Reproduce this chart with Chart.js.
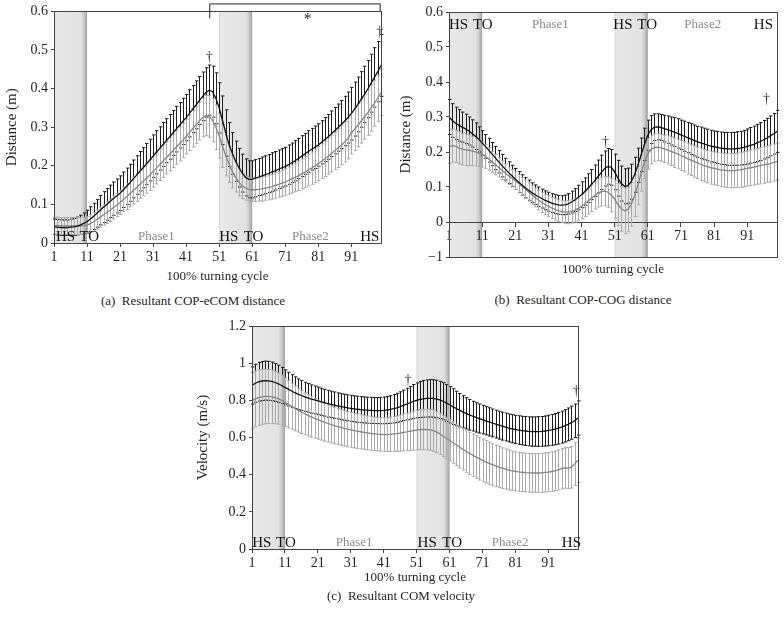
<!DOCTYPE html>
<html>
<head>
<meta charset="utf-8">
<script src="https://cdn.jsdelivr.net/npm/chart.js@4.4.1/dist/chart.umd.min.js"></script>
<style>
  body { margin: 0; background: #fff; }
  #wrap { position: relative; width: 784px; height: 625px; }
  canvas { position: absolute; }
  .cap { position: absolute; width: 320px; text-align: center; white-space: pre;
         font: 13px 'Liberation Serif', 'DejaVu Serif', serif; color: #231f20; line-height: 16px; }
</style>
</head>
<body>
<div id="wrap">
  <canvas id="chartA" width="392" height="290" style="left:0;top:0"></canvas>
  <canvas id="chartB" width="389" height="290" style="left:395px;top:0"></canvas>
  <canvas id="chartC" width="400" height="290" style="left:190px;top:310px"></canvas>
  <div class="cap" style="left:33px;top:293px">(a)  Resultant COP-eCOM distance</div>
  <div class="cap" style="left:423px;top:292px">(b)  Resultant COP-COG distance</div>
  <div class="cap" style="left:241px;top:588px">(c)  Resultant COM velocity</div>
</div>
<script>
// --- data (one value per 1% of the turning cycle, 1..100) ---
const cycleTicks = [1, 11, 21, 31, 41, 51, 61, 71, 81, 91];
const stanceBands = [[1, 11], [51, 61]];
const phaseText = ['HS', 'TO', 'Phase1', 'HS', 'TO', 'Phase2', 'HS'];

// (a) COP-eCOM distance
const meanBlackA = [
  0.042,0.041,0.040,0.040,0.040,0.041,0.042,0.044,0.047,0.051,
  0.055,0.062,0.069,0.077,0.085,0.093,0.100,0.108,0.115,0.122,
  0.129,0.138,0.147,0.156,0.166,0.176,0.186,0.195,0.205,0.215,
  0.225,0.235,0.245,0.255,0.265,0.275,0.285,0.295,0.305,0.315,
  0.325,0.336,0.347,0.358,0.369,0.380,0.390,0.396,0.392,0.375,
  0.350,0.318,0.285,0.255,0.232,0.212,0.195,0.181,0.170,0.165,
  0.165,0.168,0.171,0.174,0.177,0.180,0.184,0.187,0.191,0.195,
  0.198,0.203,0.208,0.213,0.219,0.225,0.231,0.237,0.243,0.248,
  0.254,0.261,0.268,0.275,0.283,0.291,0.299,0.307,0.316,0.325,
  0.335,0.347,0.359,0.372,0.385,0.399,0.414,0.429,0.444,0.460];
const sdBlackA = [
  0.020,0.020,0.020,0.020,0.020,0.021,0.022,0.023,0.025,0.027,
  0.030,0.032,0.034,0.036,0.038,0.040,0.041,0.042,0.043,0.044,
  0.045,0.046,0.047,0.048,0.049,0.050,0.051,0.052,0.053,0.054,
  0.055,0.056,0.056,0.057,0.057,0.058,0.058,0.059,0.059,0.060,
  0.060,0.061,0.061,0.062,0.062,0.063,0.064,0.065,0.066,0.066,
  0.065,0.063,0.060,0.057,0.054,0.052,0.050,0.049,0.048,0.048,
  0.048,0.048,0.048,0.049,0.049,0.049,0.050,0.050,0.050,0.050,
  0.050,0.051,0.051,0.052,0.052,0.053,0.053,0.054,0.054,0.055,
  0.055,0.056,0.057,0.058,0.059,0.060,0.061,0.062,0.064,0.066,
  0.068,0.070,0.071,0.072,0.073,0.074,0.075,0.077,0.078,0.080];
const meanGrayA = [
  0.045,0.045,0.044,0.044,0.044,0.044,0.044,0.044,0.044,0.045,
  0.046,0.050,0.055,0.061,0.067,0.073,0.079,0.085,0.092,0.098,
  0.105,0.113,0.120,0.128,0.136,0.144,0.152,0.160,0.168,0.176,
  0.185,0.194,0.203,0.212,0.221,0.230,0.239,0.248,0.257,0.266,
  0.276,0.286,0.296,0.306,0.316,0.325,0.330,0.328,0.318,0.300,
  0.278,0.252,0.226,0.204,0.185,0.170,0.157,0.148,0.142,0.139,
  0.138,0.138,0.139,0.140,0.142,0.144,0.146,0.149,0.152,0.155,
  0.158,0.162,0.166,0.170,0.174,0.179,0.184,0.189,0.194,0.200,
  0.206,0.212,0.218,0.225,0.232,0.239,0.246,0.254,0.262,0.271,
  0.285,0.295,0.305,0.316,0.327,0.338,0.350,0.362,0.375,0.390];
const sdGrayA = [
  0.022,0.022,0.022,0.022,0.022,0.022,0.022,0.022,0.022,0.022,
  0.022,0.023,0.024,0.025,0.026,0.027,0.028,0.029,0.030,0.030,
  0.031,0.032,0.033,0.034,0.035,0.036,0.037,0.038,0.039,0.040,
  0.040,0.041,0.041,0.042,0.042,0.043,0.043,0.044,0.044,0.045,
  0.045,0.046,0.047,0.048,0.049,0.050,0.052,0.054,0.056,0.058,
  0.058,0.056,0.052,0.047,0.042,0.038,0.035,0.033,0.031,0.030,
  0.030,0.030,0.030,0.031,0.031,0.032,0.032,0.033,0.033,0.034,
  0.034,0.035,0.036,0.037,0.038,0.039,0.040,0.041,0.042,0.043,
  0.044,0.045,0.046,0.047,0.048,0.049,0.050,0.051,0.052,0.053,
  0.054,0.055,0.056,0.057,0.058,0.059,0.060,0.060,0.060,0.060];

// (b) COP-COG distance
const meanBlackB = [
  0.300,0.290,0.282,0.276,0.271,0.266,0.260,0.253,0.245,0.236,
  0.226,0.216,0.205,0.194,0.183,0.172,0.161,0.151,0.141,0.132,
  0.123,0.114,0.106,0.098,0.091,0.084,0.078,0.072,0.067,0.062,
  0.058,0.054,0.051,0.049,0.048,0.049,0.052,0.057,0.063,0.070,
  0.078,0.087,0.097,0.107,0.118,0.130,0.142,0.153,0.159,0.156,
  0.143,0.125,0.110,0.102,0.104,0.115,0.135,0.162,0.192,0.222,
  0.248,0.264,0.271,0.272,0.270,0.267,0.264,0.260,0.257,0.253,
  0.249,0.245,0.241,0.237,0.233,0.229,0.226,0.223,0.220,0.217,
  0.215,0.213,0.211,0.210,0.209,0.209,0.209,0.210,0.211,0.213,
  0.216,0.219,0.222,0.226,0.230,0.235,0.240,0.246,0.252,0.259];
const sdBlackB = [
  0.050,0.048,0.046,0.045,0.043,0.042,0.040,0.039,0.038,0.036,
  0.035,0.034,0.034,0.033,0.033,0.032,0.032,0.031,0.031,0.030,
  0.030,0.030,0.029,0.029,0.029,0.028,0.028,0.028,0.027,0.027,
  0.027,0.027,0.027,0.027,0.027,0.028,0.029,0.031,0.033,0.035,
  0.037,0.039,0.041,0.043,0.045,0.047,0.049,0.050,0.051,0.051,
  0.051,0.051,0.050,0.050,0.050,0.050,0.050,0.049,0.048,0.046,
  0.043,0.040,0.038,0.037,0.037,0.038,0.039,0.040,0.041,0.042,
  0.042,0.043,0.043,0.044,0.044,0.044,0.045,0.045,0.045,0.045,
  0.045,0.046,0.046,0.046,0.047,0.047,0.047,0.048,0.048,0.049,
  0.050,0.051,0.052,0.053,0.054,0.055,0.056,0.057,0.058,0.060];
const meanGrayB = [
  0.215,0.218,0.216,0.212,0.208,0.206,0.205,0.203,0.200,0.197,
  0.193,0.187,0.180,0.172,0.164,0.156,0.148,0.140,0.132,0.125,
  0.118,0.110,0.102,0.094,0.086,0.078,0.070,0.063,0.056,0.050,
  0.045,0.040,0.036,0.032,0.030,0.028,0.028,0.030,0.034,0.039,
  0.045,0.052,0.060,0.068,0.076,0.083,0.087,0.088,0.085,0.077,
  0.065,0.050,0.038,0.032,0.036,0.050,0.075,0.105,0.140,0.172,
  0.195,0.207,0.213,0.214,0.212,0.209,0.206,0.202,0.198,0.194,
  0.190,0.186,0.181,0.177,0.173,0.169,0.165,0.161,0.158,0.155,
  0.153,0.151,0.149,0.148,0.147,0.147,0.147,0.148,0.149,0.151,
  0.153,0.155,0.157,0.159,0.161,0.163,0.165,0.167,0.170,0.173];
const sdGrayB = [
  0.048,0.047,0.046,0.046,0.045,0.045,0.044,0.042,0.040,0.038,
  0.036,0.034,0.032,0.030,0.029,0.028,0.027,0.026,0.025,0.025,
  0.025,0.025,0.025,0.026,0.026,0.027,0.027,0.028,0.029,0.029,
  0.030,0.030,0.031,0.031,0.032,0.032,0.033,0.033,0.034,0.034,
  0.035,0.036,0.037,0.038,0.039,0.040,0.041,0.042,0.044,0.048,
  0.054,0.060,0.064,0.065,0.064,0.062,0.059,0.056,0.052,0.048,
  0.044,0.041,0.039,0.038,0.038,0.039,0.040,0.041,0.042,0.042,
  0.043,0.043,0.044,0.044,0.045,0.045,0.046,0.046,0.046,0.047,
  0.047,0.047,0.048,0.048,0.048,0.049,0.049,0.049,0.050,0.050,
  0.050,0.051,0.051,0.051,0.052,0.052,0.052,0.053,0.053,0.053];

// (c) COM velocity
const meanBlackC = [
  0.880,0.892,0.900,0.904,0.906,0.905,0.902,0.896,0.889,0.880,
  0.870,0.860,0.850,0.841,0.833,0.826,0.819,0.813,0.807,0.802,
  0.797,0.792,0.787,0.782,0.778,0.774,0.770,0.766,0.763,0.760,
  0.757,0.754,0.752,0.750,0.748,0.747,0.746,0.745,0.745,0.745,
  0.746,0.748,0.751,0.755,0.760,0.766,0.773,0.780,0.787,0.794,
  0.800,0.805,0.808,0.810,0.811,0.810,0.807,0.802,0.795,0.786,
  0.776,0.766,0.756,0.747,0.738,0.730,0.722,0.715,0.708,0.702,
  0.696,0.690,0.684,0.678,0.672,0.666,0.661,0.656,0.651,0.647,
  0.643,0.640,0.637,0.635,0.633,0.632,0.632,0.632,0.633,0.635,
  0.638,0.641,0.645,0.650,0.656,0.663,0.671,0.680,0.690,0.705];
const sdBlackC = [
  0.100,0.102,0.104,0.105,0.105,0.105,0.104,0.102,0.100,0.097,
  0.094,0.091,0.088,0.085,0.082,0.080,0.078,0.077,0.076,0.075,
  0.074,0.073,0.072,0.072,0.071,0.071,0.070,0.070,0.070,0.070,
  0.070,0.070,0.070,0.070,0.070,0.070,0.070,0.070,0.070,0.071,
  0.072,0.073,0.074,0.076,0.078,0.080,0.082,0.085,0.088,0.091,
  0.094,0.097,0.099,0.100,0.101,0.101,0.101,0.100,0.100,0.099,
  0.098,0.096,0.093,0.090,0.087,0.084,0.082,0.080,0.079,0.078,
  0.077,0.076,0.076,0.075,0.075,0.075,0.075,0.075,0.075,0.076,
  0.076,0.077,0.077,0.078,0.078,0.079,0.079,0.080,0.080,0.081,
  0.082,0.083,0.084,0.085,0.086,0.087,0.088,0.089,0.090,0.092];
const meanGrayC = [
  0.800,0.808,0.815,0.819,0.821,0.821,0.819,0.815,0.809,0.800,
  0.790,0.779,0.768,0.757,0.747,0.737,0.728,0.719,0.711,0.703,
  0.696,0.689,0.682,0.676,0.670,0.664,0.659,0.654,0.649,0.645,
  0.641,0.637,0.634,0.631,0.628,0.625,0.622,0.620,0.618,0.617,
  0.616,0.616,0.617,0.619,0.621,0.624,0.627,0.630,0.634,0.637,
  0.640,0.642,0.643,0.643,0.641,0.637,0.630,0.620,0.608,0.596,
  0.585,0.573,0.561,0.549,0.537,0.526,0.515,0.505,0.495,0.486,
  0.477,0.469,0.461,0.454,0.447,0.441,0.435,0.430,0.425,0.421,
  0.418,0.415,0.413,0.411,0.410,0.409,0.409,0.409,0.410,0.412,
  0.414,0.417,0.421,0.426,0.432,0.437,0.435,0.440,0.458,0.478];
const sdGrayC = [
  0.150,0.150,0.149,0.148,0.147,0.146,0.144,0.141,0.138,0.135,
  0.131,0.128,0.124,0.121,0.118,0.115,0.113,0.111,0.109,0.107,
  0.105,0.103,0.102,0.100,0.099,0.098,0.097,0.096,0.095,0.095,
  0.094,0.093,0.093,0.092,0.092,0.091,0.091,0.090,0.090,0.090,
  0.090,0.091,0.092,0.093,0.095,0.097,0.099,0.101,0.103,0.105,
  0.106,0.108,0.109,0.110,0.110,0.111,0.111,0.111,0.111,0.111,
  0.111,0.112,0.112,0.113,0.113,0.114,0.114,0.114,0.115,0.115,
  0.115,0.114,0.113,0.112,0.111,0.110,0.109,0.108,0.107,0.106,
  0.105,0.104,0.104,0.104,0.104,0.104,0.104,0.104,0.105,0.105,
  0.105,0.106,0.107,0.108,0.109,0.110,0.111,0.112,0.116,0.120];

// axis ticks
const yTicksA = [0, 0.1, 0.2, 0.3, 0.4, 0.5, 0.6];
const yLabelsA = ['0', '0.1', '0.2', '0.3', '0.4', '0.5', '0.6'];
const yTicksB = [-0.1, 0, 0.1, 0.2, 0.3, 0.4, 0.5, 0.6];
const yLabelsB = ['\u22121', '0', '0.1', '0.2', '0.3', '0.4', '0.5', '0.6'];
const yTicksC = [0, 0.2, 0.4, 0.6, 0.8, 1, 1.2];
const yLabelsC = ['0', '0.2', '0.4', '0.6', '0.8', '1', '1.2'];

// where the event labels sit along the cycle
const phaseAtA = [4.5, 11.7, 32, 53.9, 61.4, 78.6, 96.6];
const phaseAtB = [3.9, 11.2, 31.6, 53.5, 60.8, 77.6, 95.9];
const phaseAtC = [4.0, 11.3, 32, 54.2, 61.8, 79.4, 98];
const daggersA = [[48, 0.48], [99.6, 0.545]];
const daggersB = [[48.2, 0.227], [96.8, 0.35]];
const daggersC = [[48.4, 0.91], [99.5, 0.846]];

const serif = "'Liberation Serif', 'DejaVu Serif', serif";
const inkColor = '#231f20';
const axisColor = '#444';

// --- extras: stance bands, error bars, labels ---
const extrasPlugin = {
  id: 'extras',
  beforeDraw(chart) {
    // stance bands go under everything, axis labels included
    const { ctx, chartArea: a, scales: { x } } = chart;
    ctx.save();
    stanceBands.forEach(([s, e]) => {
      const x0 = x.getPixelForValue(s), x1 = x.getPixelForValue(e);
      const g = ctx.createLinearGradient(x0, 0, x1, 0);
      g.addColorStop(0, '#cdcdcd');
      g.addColorStop(0.05, '#e8e8e8');
      g.addColorStop(0.8, '#e3e3e3');
      g.addColorStop(0.9, '#cccccc');
      g.addColorStop(1, '#9d9d9d');
      ctx.fillStyle = g;
      ctx.fillRect(x0, a.top, x1 - x0, a.bottom - a.top);
    });
    ctx.restore();
  },
  beforeDatasetsDraw(chart) {
    const { ctx, scales: { x, y } } = chart;
    ctx.save();
    // error bars: black first, gray over it
    chart.data.datasets.forEach(ds => {
      ctx.strokeStyle = ds.barColor;
      ctx.lineWidth = 1;
      ctx.beginPath();
      ds.data.forEach((p, i) => {
        const px = Math.round(x.getPixelForValue(p.x)) + 0.5;
        const top = y.getPixelForValue(p.y + ds.sd[i]);
        const bot = y.getPixelForValue(p.y - ds.sd[i]);
        ctx.moveTo(px, top); ctx.lineTo(px, bot);
        ctx.moveTo(px - 1.5, top); ctx.lineTo(px + 2, top);
        ctx.moveTo(px - 1.5, bot); ctx.lineTo(px + 2, bot);
      });
      ctx.stroke();
    });
    ctx.restore();
  },
  afterDatasetsDraw(chart, args, opts) {
    const { ctx, chartArea: a, scales: { x, y } } = chart;
    ctx.save();
    ctx.strokeStyle = axisColor;
    ctx.lineWidth = 1;
    ctx.strokeRect(Math.round(a.left) + 0.5, Math.round(a.top) + 0.5,
      Math.round(a.right - a.left), Math.round(a.bottom - a.top));
    ctx.textAlign = 'center';
    ctx.textBaseline = 'middle';
    const ty = opts.labelsTop ? a.top + 13 : a.bottom - 6;
    phaseText.forEach((t, i) => {
      const isPhase = t.startsWith('Phase');
      ctx.font = (isPhase ? '13px ' : '15px ') + serif;
      ctx.fillStyle = isPhase ? '#8a8a8a' : '#111';
      ctx.fillText(t, x.getPixelForValue(opts.phaseAt[i]), ty);
    });
    ctx.font = '14px ' + serif;
    ctx.fillStyle = '#333';
    opts.daggers.forEach(([dx, dy]) => {
      ctx.fillText('\u2020', x.getPixelForValue(dx), y.getPixelForValue(dy));
    });
    if (opts.bracket) {
      const [b0, b1] = opts.bracket;
      const l = x.getPixelForValue(b0), r = x.getPixelForValue(b1);
      ctx.strokeStyle = '#222';
      ctx.beginPath();
      ctx.moveTo(l + 0.5, a.top + 7); ctx.lineTo(l + 0.5, a.top - 7.5);
      ctx.lineTo(r + 0.5, a.top - 7.5); ctx.lineTo(r + 0.5, a.top);
      ctx.stroke();
      ctx.font = '16px ' + serif;
      ctx.fillStyle = '#333';
      ctx.fillText('*', x.getPixelForValue(opts.starAt), a.top + 8);
    }
    ctx.restore();
  }
};

function toPoints(values) {
  return values.map((v, i) => ({ x: i + 1, y: v }));
}

function buildPanel(id, spec) {
  const tickFont = { family: serif, size: 14 };
  const xTitleFont = { family: serif, size: 13 };
  const yTitleFont = { family: serif, size: 15 };
  return new Chart(document.getElementById(id), {
    type: 'line',
    data: {
      datasets: [
        { data: toPoints(spec.black), sd: spec.blackSd, barColor: '#1e1e1e',
          borderColor: '#111', borderWidth: 1.3, pointRadius: 0, tension: 0 },
        { data: toPoints(spec.gray), sd: spec.graySd, barColor: '#ababab',
          borderColor: '#858585', borderWidth: 1.3, pointRadius: 0, tension: 0 }
      ]
    },
    options: {
      responsive: false,
      animation: false,
      events: [],
      layout: { padding: { top: spec.padTop, right: spec.padRight, bottom: spec.padBottom || 0, left: 0 } },
      plugins: {
        legend: { display: false },
        tooltip: { enabled: false },
        extras: spec.extras
      },
      scales: {
        x: {
          type: 'linear', min: 1, max: 100,
          position: spec.xPosition || 'bottom',
          afterBuildTicks: s => { s.ticks = cycleTicks.map(v => ({ value: v })); },
          afterFit: s => { s.height = spec.xHeight; },
          grid: { drawOnChartArea: false, tickLength: 4, color: axisColor },
          border: { color: axisColor },
          ticks: { font: tickFont, color: inkColor, padding: 2, maxRotation: 0, autoSkip: false },
          title: { display: true, text: '100% turning cycle', font: xTitleFont, color: inkColor,
                   padding: { top: 0, bottom: spec.xTitlePad } }
        },
        y: {
          min: spec.yTicks[0], max: spec.yTicks[spec.yTicks.length - 1],
          afterBuildTicks: s => { s.ticks = spec.yTicks.map(v => ({ value: v })); },
          afterFit: s => { s.width = spec.yWidth; },
          grid: { drawOnChartArea: false, tickLength: 3, color: axisColor },
          border: { color: axisColor },
          ticks: { font: tickFont, color: inkColor, padding: 3, callback: (v, i) => spec.yLabels[i] },
          title: { display: true, text: spec.yTitle, font: yTitleFont, color: inkColor,
                   padding: { top: spec.yTitlePad, bottom: 0 } }
        }
      }
    },
    plugins: [extrasPlugin]
  });
}

buildPanel('chartA', {
  black: meanBlackA, blackSd: sdBlackA, gray: meanGrayA, graySd: sdGrayA,
  yTicks: yTicksA, yLabels: yLabelsA, yTitle: 'Distance (m)',
  padTop: 11, padRight: 11, xHeight: 47, xTitlePad: 6, yWidth: 54, yTitlePad: 3,
  extras: { phaseAt: phaseAtA, daggers: daggersA, bracket: [48, 99.6], starAt: 77.8 }
});

buildPanel('chartB', {
  black: meanBlackB, blackSd: sdBlackB, gray: meanGrayB, graySd: sdGrayB,
  yTicks: yTicksB, yLabels: yLabelsB, yTitle: 'Distance (m)',
  padTop: 12, padRight: 7, padBottom: 33, xPosition: { y: 0 }, xHeight: 57, xTitlePad: 2,
  yWidth: 54, yTitlePad: 2,
  extras: { phaseAt: phaseAtB, daggers: daggersB, labelsTop: true }
});

buildPanel('chartC', {
  black: meanBlackC, blackSd: sdBlackC, gray: meanGrayC, graySd: sdGrayC,
  yTicks: yTicksC, yLabels: yLabelsC, yTitle: 'Velocity (m/s)',
  padTop: 16, padRight: 12, xHeight: 51, xTitlePad: 15, yWidth: 62, yTitlePad: 4,
  extras: { phaseAt: phaseAtC, daggers: daggersC }
});
</script>
</body>
</html>
